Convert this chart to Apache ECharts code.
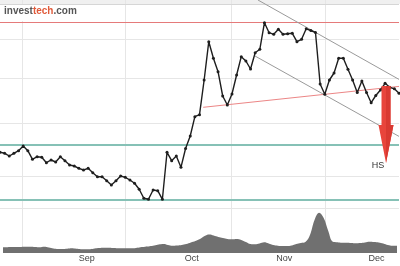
<!DOCTYPE html>
<html><head><meta charset="utf-8">
<script src="https://cdn.jsdelivr.net/npm/echarts/dist/echarts.min.js"></script>
<style>html,body{margin:0;padding:0;background:#fff}#c{width:400px;height:266px}</style>
</head><body><div id="c"></div>
<script>
// closing prices (one per trading day)
const price = [54.77,54.67,54.40,54.67,54.93,55.40,54.93,54.07,54.33,54.27,
  53.73,54.00,53.80,54.33,53.93,53.50,53.40,53.17,53.00,53.17,
  52.73,52.33,52.33,51.93,51.50,51.93,52.40,52.27,52.00,51.67,
  51.07,50.17,50.07,51.00,50.93,50.07,54.77,53.93,54.40,53.27,
  55.15,56.40,58.33,58.53,62.00,65.83,64.17,62.83,60.40,59.50,
  60.60,62.50,64.33,63.90,63.10,64.73,65.07,67.73,66.73,66.57,
  67.07,66.57,66.63,66.67,65.83,66.07,67.12,66.95,66.75,61.60,
  60.57,62.00,62.70,64.17,64.17,63.07,62.00,60.75,61.90,60.75,
  59.73,60.45,61.00,61.67,61.27,61.12,60.67];
// volume
const volume = [5.7,5.8,5.9,6.0,6.1,6.2,6.3,6.0,5.8,6.3,
  5.5,4.5,4.0,4.0,4.2,4.7,4.2,3.8,3.7,3.8,
  4.5,5.0,5.3,5.3,5.0,4.8,4.7,4.7,4.7,5.0,
  5.8,6.3,6.8,7.5,8.5,9.0,8.0,7.3,7.5,8.0,
  9.0,10.5,12.0,14.0,17.0,18.5,17.5,16.0,15.0,14.0,
  13.7,14.0,13.0,11.0,9.0,8.7,9.5,10.7,9.5,8.0,
  7.3,7.0,7.0,7.5,9.0,10.0,11.0,18.0,33.0,40.3,
  35.0,22.0,11.3,10.8,10.3,10.2,10.0,9.8,10.0,10.5,
  11.3,11.0,10.5,9.5,8.0,7.3,7.3];
const monthLabels = ['Sep','Oct','Nov','Dec'];
const monthPos = [18.3, 41.2, 61.4, 81.5];
const gridX = [4.74, 26.94, 49.78, 70.04];
const gridY = [66.1, 62.2, 57.7, 52.4, 49.2];
const topFrame = 69.6;
const resistance = 67.8;
const supportLevels = [55.5, 50.0];
const risingLine = [[43.8, 59.27], [86, 61.36]];
const channelUpper = [[55.6, 70], [86, 62.06]];
const channelLower = [[54.96, 64.4], [86, 56.36]];
const arrowData = [[83.2, 61.4, 57.5, 53.7]];
const arrowLabel = 'HS';

const chart = echarts.init(document.getElementById('c'), null, {renderer:'canvas'});
const lvl = (v, color, width) => ({yAxis: v, lineStyle:{color, width, type:'solid'}});
const vl = (v, color, width) => ({xAxis: v, lineStyle:{color, width, type:'solid'}});

chart.setOption({
  animation: false,
  backgroundColor: '#fff',
  grid: [
    {left: 0, right: 1, top: 0, bottom: 13},
    {left: 0, right: 1, bottom: 13, height: 50}
  ],
  xAxis: [
    {type:'value', gridIndex:0, min:0, max:86, show:false},
    {type:'value', gridIndex:1, min:0, max:86, interval:0.1,
     axisLine:{show:false}, axisTick:{show:false}, splitLine:{show:false},
     axisLabel:{fontSize:9, color:'#444', margin:1, fontFamily:'Arial, Liberation Sans, sans-serif',
       formatter: v => { const k = monthPos.findIndex(p => Math.abs(p - v) < 0.04); return k >= 0 ? monthLabels[k] : ''; }}}
  ],
  yAxis: [
    {type:'value', gridIndex:0, min:44.7, max:70, show:false},
    {type:'value', gridIndex:1, min:0, max:50, show:false}
  ],
  series: [
    {type:'line', xAxisIndex:0, yAxisIndex:0, data:[], z:1, silent:true,
     markLine:{z:1, silent:true, symbol:'none', label:{show:false}, animation:false,
       data: [
         ...gridX.map(v => vl(v, '#e6e6e6', 1)),
         ...gridY.map(v => lvl(v, '#e6e6e6', 1)),
         lvl(topFrame, '#d6d6d6', 1)
       ]}},
    {type:'line', xAxisIndex:1, yAxisIndex:1, data: volume.map((v,i)=>[i,v]),
     smooth:0.4, symbol:'none', lineStyle:{width:0}, areaStyle:{color:'#707070', opacity:1}, z:2, silent:true},
    {type:'line', xAxisIndex:0, yAxisIndex:0, data:[], z:3, silent:true,
     markLine:{z:3, silent:true, symbol:'none', label:{show:false}, animation:false,
       data: [
         lvl(resistance, '#e57a7a', 1),
         ...supportLevels.map(v => lvl(v, '#86c1b6', 2)),
         [ {coord: risingLine[0], lineStyle:{color:'#ec8686', width:1, type:'solid'}}, {coord: risingLine[1]} ],
         [ {coord: channelUpper[0], lineStyle:{color:'#9a9a9a', width:1, type:'solid'}}, {coord: channelUpper[1]} ],
         [ {coord: channelLower[0], lineStyle:{color:'#9a9a9a', width:1, type:'solid'}}, {coord: channelLower[1]} ]
       ]}},
    {type:'line', xAxisIndex:0, yAxisIndex:0, data: price.map((v,i)=>[i,v]), z:5,
     symbol:'circle', symbolSize:3, showAllSymbol:true,
     itemStyle:{color:'#1e1e1e'}, lineStyle:{color:'#1e1e1e', width:1.4}, silent:true},
    {type:'custom', xAxisIndex:0, yAxisIndex:0, data: arrowData, z:6, silent:true,
     renderItem: (params, api) => {
       const top = api.coord([api.value(0), api.value(1)]);
       const head = api.coord([api.value(0), api.value(2)]);
       const tip = api.coord([api.value(0), api.value(3)]);
       const x = top[0], sw = 4.5, hw = 7.5;
       return {type:'group', children:[
         {type:'polygon', shape:{points:[[x-sw,top[1]],[x+sw,top[1]],[x+sw,head[1]],[x+hw,head[1]],[x,tip[1]],[x-hw,head[1]],[x-sw,head[1]]]},
          style:{fill:'#e8453c'}},
         {type:'polygon', shape:{points:[[x,top[1]],[x+sw,top[1]],[x+sw,head[1]],[x+hw,head[1]],[x,tip[1]]]},
          style:{fill:'#d93a32'}},
         {type:'text', x: x-8, y: tip[1]+3, style:{text: arrowLabel, fontSize:9, fill:'#333', align:'center', verticalAlign:'middle', fontFamily:'Arial, Liberation Sans, sans-serif'}}
       ]};
     }}
  ],
  graphic: [
    {type:'rect', left:0, top:0, shape:{width:400, height:4}, style:{fill:'#f0f0f0'}, z:0},
    {type:'rect', left:0, top:5, shape:{width:80, height:16}, style:{fill:'#fff'}, z:10},
    {type:'text', left:4, top:6, z:11, style:{
      text:'{a|invest}{b|tech}{a|.com}',
      rich:{a:{fontSize:10, fontWeight:'bold', fill:'#555', fontFamily:'Arial, Liberation Sans, sans-serif'},
            b:{fontSize:10, fontWeight:'bold', fill:'#e05a3a', fontFamily:'Arial, Liberation Sans, sans-serif'}}}}
  ]
});
</script></body></html>
